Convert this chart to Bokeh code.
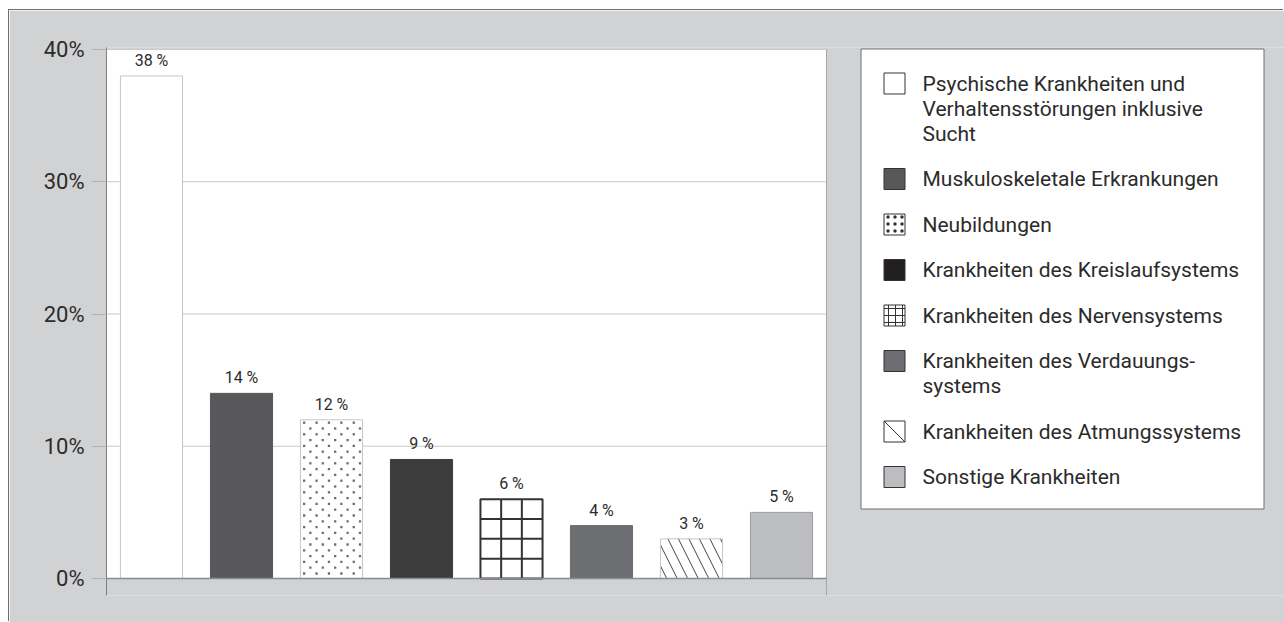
import numpy as np
from bokeh.plotting import figure
from bokeh.models import Range1d, BoxAnnotation, FixedTicker, ColumnDataSource
from bokeh.core.properties import value
from bokeh.embed import file_html
from bokeh.resources import INLINE

# ---------------- data ----------------
categories = [
    "Psychische Krankheiten und Verhaltensstörungen inklusive Sucht",
    "Muskuloskeletale Erkrankungen",
    "Neubildungen",
    "Krankheiten des Kreislaufsystems",
    "Krankheiten des Nervensystems",
    "Krankheiten des Verdauungssystems",
    "Krankheiten des Atmungssystems",
    "Sonstige Krankheiten",
]
values = [38, 14, 12, 9, 6, 4, 3, 5]
value_labels = [f"{v} %" for v in values]
legend_labels = [
    "Psychische Krankheiten und\nVerhaltensstörungen inklusive\nSucht",
    "Muskuloskeletale Erkrankungen",
    "Neubildungen",
    "Krankheiten des Kreislaufsystems",
    "Krankheiten des Nervensystems",
    "Krankheiten des Verdauungs-\nsystems",
    "Krankheiten des Atmungssystems",
    "Sonstige Krankheiten",
]
y_ticks = [0, 10, 20, 30, 40]
y_tick_labels = ["0%", "10%", "20%", "30%", "40%"]

# ---------------- styles ----------------
GRAY_BG = "#d1d2d4"
FRAME_LINE = "#6d6e71"
TEXT = "#2b2b2b"
FONT = "Roboto"

bar_fill = ["#ffffff", "#58585a", "#ffffff", "#3c3c3d", "#ffffff", "#6d6e71", "#ffffff", "#bcbdc0"]
bar_line = ["#c6c6c6", "#58585a", "#c6c6c6", "#3c3c3d", "#333333", "#6d6e71", "#c6c6c6", "#9c9c9e"]
bar_line_w = [1, 1, 1, 1, 2, 1, 1, 1]
bar_hatch = ["blank", "blank", "blank", "blank", "blank", "blank", "left_diagonal_line", "blank"]
bar_hatch_color = ["#000000", "#000000", "#8a8b8e", "#000000", "#333333", "#000000", "#444444", "#000000"]
bar_hatch_scale = [10, 10, 9, 10, 20.5, 10, 21, 10]
bar_hatch_weight = [1, 1, 2.2, 1, 2, 1, 1, 1]
DOT_BAR = 2             # bar drawn with a staggered dot pattern
DOT_DX_PX, DOT_DY_PX = 12.4, 5.8
GRID_BAR = 4            # bar drawn with a grid pattern
GRID_COLS = 3
GRID_CELL_PCT = 1.5     # cell height in chart units

sw_fill = ["#ffffff", "#58585a", "#ffffff", "#231f20", "#ffffff", "#6d6e71", "#ffffff", "#bcbdc0"]
sw_hatch = ["blank", "blank", "dot", "blank", "cross", "blank", "blank", "blank"]
sw_hatch_scale = [7, 7, 7, 7, 7, 7, 7, 7]
sw_hatch_weight = [1, 1, 2, 1, 1, 1, 1, 1]

# ---------------- layout (pixels, page coordinates) ----------------
W, H = 1284, 622
PAGE_L, PAGE_T = 9, 10
FRAME_L, FRAME_T, FRAME_B = 106, 47, 595
PX_PER_CAT = 90.0
PX_PER_PCT = 13.225
ZERO_Y = 578
BAR_W = 0.69

fig_w = W - PAGE_L
fig_h = H - PAGE_T

n = len(categories)
x_end = (W - FRAME_L) / PX_PER_CAT
y_top = 40 + (ZERO_Y - 40 * PX_PER_PCT - FRAME_T) / PX_PER_PCT
y_bot = -(FRAME_B - ZERO_Y) / PX_PER_PCT

p = figure(
    width=fig_w, height=fig_h,
    output_backend="svg", toolbar_location=None,
    x_axis_location=None,
    x_range=Range1d(0, x_end), y_range=Range1d(y_bot, y_top),
    min_border_left=FRAME_L - PAGE_L, min_border_right=0,
    min_border_top=FRAME_T - PAGE_T, min_border_bottom=H - FRAME_B,
    border_fill_color=GRAY_BG, background_fill_color=GRAY_BG,
    outline_line_color=None,
)
p.margin = (PAGE_T, 0, 0, PAGE_L)
p.styles = {"box-shadow": f"-1px -1px 0 0 {FRAME_LINE}"}
p.grid.grid_line_color = None

# pixel ranges for the legend
p.extra_x_ranges = {"px": Range1d(FRAME_L, W)}
p.extra_y_ranges = {"px": Range1d(FRAME_B, FRAME_T)}

# white plot area
plot_area = BoxAnnotation(left=0, right=n, bottom=0, top=40,
                          fill_color="white", fill_alpha=1.0,
                          line_color=None, level="image")
p.add_layout(plot_area)

# gridlines
p.segment(x0=0, x1=n, y0=y_ticks[1:], y1=y_ticks[1:],
          line_color="#c9c9c9", line_width=1, level="underlay")
# right edge line of plot area
p.segment(x0=[n], x1=[n], y0=[y_bot], y1=[40], line_color="#a5a6a8", line_width=1)

# bars
xs = np.arange(n) + 0.5
src = ColumnDataSource(dict(
    x=xs, top=values, label=value_labels,
    fill=bar_fill, line=bar_line, lw=bar_line_w,
    hatch=bar_hatch, hcolor=bar_hatch_color, hscale=bar_hatch_scale, hweight=bar_hatch_weight,
))
p.vbar(x="x", top="top", bottom=0, width=BAR_W, source=src,
       fill_color="fill", line_color="line", line_width="lw",
       hatch_pattern="hatch", hatch_color="hcolor", hatch_scale="hscale",
       hatch_weight="hweight")

# staggered dot pattern inside the neoplasm bar
d_left = xs[DOT_BAR] - BAR_W / 2
d_right = d_left + BAR_W
d_top = values[DOT_BAR]
ddx = DOT_DX_PX / PX_PER_CAT
ddy = DOT_DY_PX / PX_PER_PCT
dot_x, dot_y = [], []
row = 0
yy = d_top - 0.5 * ddy
while yy > 0.3 * ddy:
    xx = d_left + 0.3 * ddx + (0.5 * ddx if row % 2 else 0)
    while xx < d_right - 0.15 * ddx:
        dot_x.append(xx)
        dot_y.append(yy)
        xx += ddx
    yy -= ddy
    row += 1
p.scatter(x=dot_x, y=dot_y, marker="square", size=2.3, line_color=None,
          fill_color="#6d6e71")

# grid pattern inside the nervous-system bar, aligned to the bar's own edges
gx, gtop = xs[GRID_BAR], values[GRID_BAR]
g_left = gx - BAR_W / 2
v_x = [g_left + BAR_W * k / GRID_COLS for k in range(1, GRID_COLS)]
h_y = list(np.arange(gtop - GRID_CELL_PCT, 0.01, -GRID_CELL_PCT))
p.segment(x0=v_x, x1=v_x, y0=[0] * len(v_x), y1=[gtop] * len(v_x),
          line_color="#333333", line_width=2)
p.segment(x0=[g_left] * len(h_y), x1=[g_left + BAR_W] * len(h_y), y0=h_y, y1=h_y,
          line_color="#333333", line_width=2)

# baseline
p.segment(x0=[0], x1=[n], y0=[0], y1=[0], line_color="#8c8c8e", line_width=1.5)

# value labels
p.text(x="x", y="top", text="label", source=src, y_offset=-6,
       text_align="center", text_baseline="bottom",
       text_font=value(FONT), text_font_size="16px", text_color=TEXT)

# y axis
ax = p.yaxis[0]
ax.ticker = FixedTicker(ticks=y_ticks)
ax.major_label_overrides = {t: l for t, l in zip(y_ticks, y_tick_labels)}
ax.major_label_text_font = FONT
ax.major_label_text_font_size = "22px"
ax.major_label_text_color = TEXT
ax.major_label_standoff = 7
ax.major_tick_out = 15
ax.major_tick_in = 0
ax.major_tick_line_color = "#b0b1b3"
ax.minor_tick_line_color = None
ax.axis_line_color = "#7d7e80"

# ---------------- legend (manual, pixel coordinates) ----------------
LG_L, LG_R, LG_T, LG_B = 860.5, 1263.5, 48.5, 508.5
p.quad(left=[LG_L], right=[LG_R], top=[LG_T], bottom=[LG_B],
       x_range_name="px", y_range_name="px",
       fill_color="white", line_color=FRAME_LINE, line_width=1)

SW_L, SW_SIZE, TXT_X = 883.5, 21, 922
FIRST_TOP, ROW_STEP, LINE_H = 72.5, 45.5, 25
tops = []
t = FIRST_TOP
for lab in legend_labels:
    tops.append(t)
    t += ROW_STEP + LINE_H * (lab.count("\n"))
tops = np.array(tops)

sw_src = ColumnDataSource(dict(
    left=[SW_L] * n, right=[SW_L + SW_SIZE] * n, top=tops, bottom=tops + SW_SIZE,
    fill=sw_fill, hatch=sw_hatch, hscale=sw_hatch_scale, hweight=sw_hatch_weight,
))
p.quad(left="left", right="right", top="top", bottom="bottom", source=sw_src,
       x_range_name="px", y_range_name="px",
       fill_color="fill", line_color="#333333", line_width=1,
       hatch_pattern="hatch", hatch_color="#333333", hatch_scale="hscale",
       hatch_weight="hweight")

# diagonal in the breathing-system swatch
diag_i = bar_hatch.index("left_diagonal_line")
p.segment(x0=[SW_L], y0=[tops[diag_i]], x1=[SW_L + SW_SIZE], y1=[tops[diag_i] + SW_SIZE],
          x_range_name="px", y_range_name="px", line_color="#333333", line_width=1)

tx, ty, tt = [], [], []
for top, lab in zip(tops, legend_labels):
    for j, line in enumerate(lab.split("\n")):
        tx.append(TXT_X)
        ty.append(top + SW_SIZE / 2 + j * LINE_H)
        tt.append(line)
p.text(x=tx, y=ty, text=tt, x_range_name="px", y_range_name="px",
       text_align="left", text_baseline="middle",
       text_font=value(FONT), text_font_size="21px", text_color=TEXT)

open("out.html", "w").write(file_html(p, INLINE))
